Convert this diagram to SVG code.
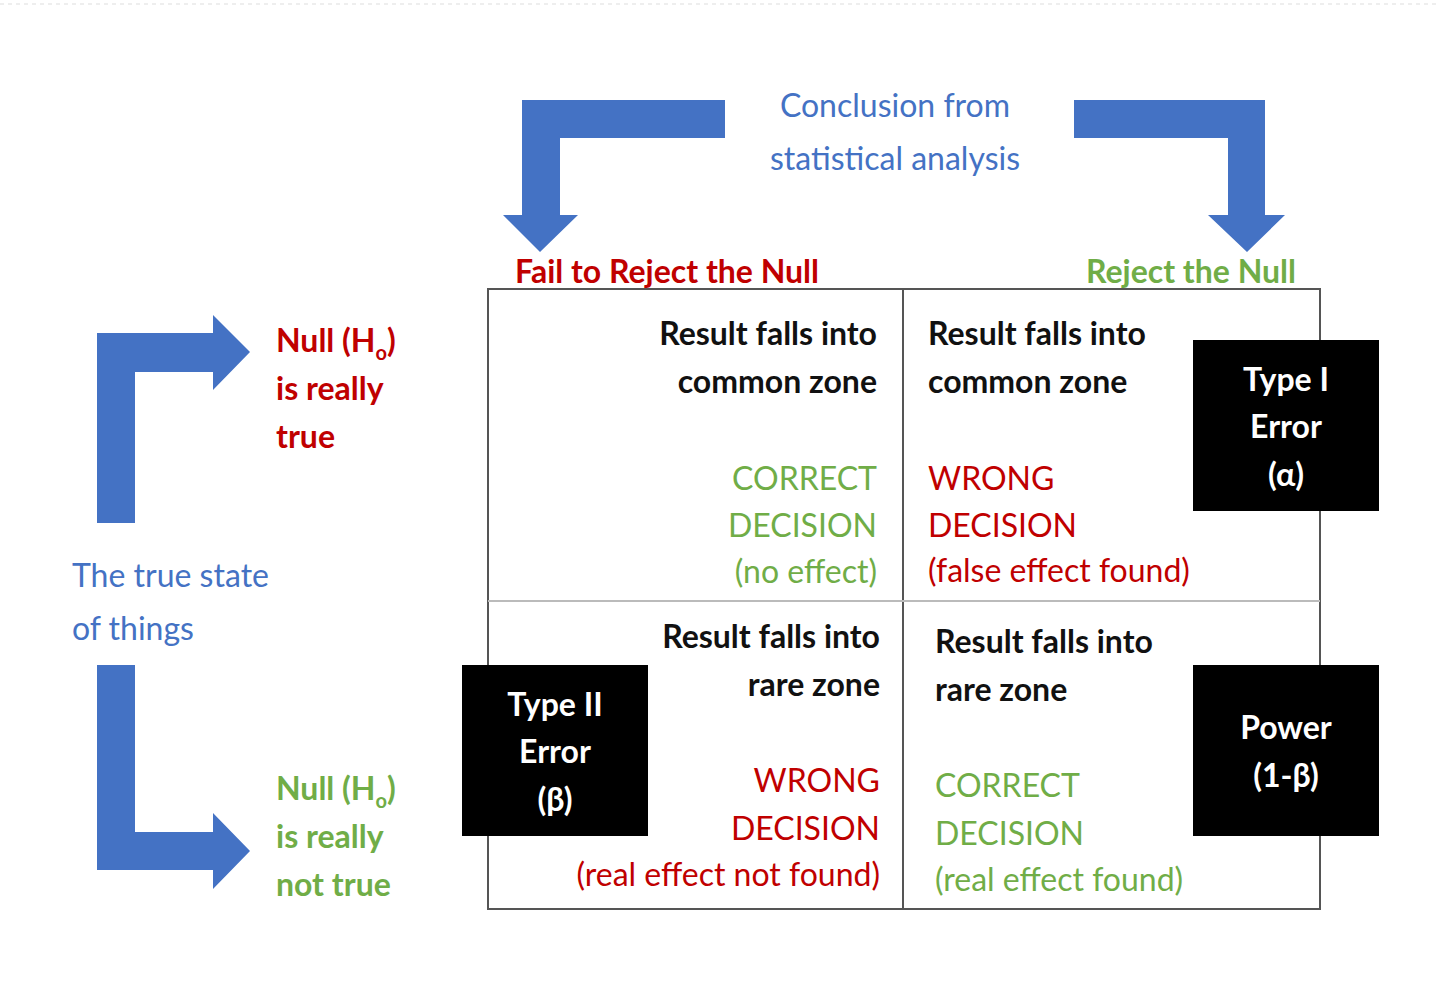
<svg xmlns="http://www.w3.org/2000/svg" width="1440" height="1005" viewBox="0 0 1440 1005">
<style>
text{font-family:Lato,"Open Sans","Liberation Sans",sans-serif;font-size:32px}
.b{font-weight:bold;fill:#111}
.blue{fill:#4472C4}
.red{fill:#C00000}
.grn{fill:#70AD47}
.w{fill:#fff;font-weight:bold}
.arr{fill:#4472C4}
.box{fill:#000}
</style>
<rect width="1440" height="1005" fill="#fff"/>
<line x1="0" y1="4" x2="1440" y2="4" stroke="#ddd" stroke-dasharray="4 4"/>
<g id="connectors">
<path class="arr" d="M522 100H725V138H560V215H578L540 252L503 215H522Z"/>
<path class="arr" d="M1074 100H1265V215H1285L1247 252L1208 215H1228V138H1074Z"/>
<path class="arr" d="M97 523V333H213V315L250 352L213 390V372H135V523Z"/>
<path class="arr" d="M97 665H135V832H213V813L250 851L213 889V870H97Z"/>
</g>
<g id="title"><text class="blue" x="895" y="117" text-anchor="middle" font-size="38">Conclusion from</text><text class="blue" x="895" y="170" text-anchor="middle" font-size="38">statistical analysis</text></g>
<g id="col-labels"><text class="red" x="515" y="283" font-weight="bold">Fail to Reject the Null</text><text class="grn" x="1296" y="283" text-anchor="end" font-weight="bold">Reject the Null</text></g>
<g id="row-labels">
<text class="blue" x="72" y="587" font-size="38">The true state</text><text class="blue" x="72" y="640" font-size="38">of things</text>
<text class="red" font-weight="bold" x="276" y="352">Null (H<tspan font-size="20" dy="8">o</tspan><tspan dy="-8">)</tspan></text>
<text class="red" font-weight="bold" x="276" y="400">is really</text><text class="red" font-weight="bold" x="276" y="448">true</text>
<text class="grn" font-weight="bold" x="276" y="800">Null (H<tspan font-size="20" dy="8">o</tspan><tspan dy="-8">)</tspan></text>
<text class="grn" font-weight="bold" x="276" y="848">is really</text><text class="grn" font-weight="bold" x="276" y="896">not true</text>
</g>
<g id="grid" fill="none" stroke="#555" stroke-width="2"><rect x="488" y="289" width="832" height="620"/><line x1="903" y1="289" x2="903" y2="909"/><line x1="488" y1="601" x2="1320" y2="601" stroke="#bbb"/></g>
<g id="cell-tl" text-anchor="end">
<text class="b" x="877" y="345">Result falls into</text><text class="b" x="877" y="393">common zone</text>
<text class="grn" x="877" y="490" font-size="36">CORRECT</text><text class="grn" x="877" y="537" font-size="36">DECISION</text><text class="grn" x="877" y="583">(no effect)</text></g>
<g id="cell-tr">
<text class="b" x="928" y="345">Result falls into</text><text class="b" x="928" y="393">common zone</text>
<text class="red" x="928" y="490" font-size="36">WRONG</text><text class="red" x="928" y="537" font-size="36">DECISION</text><text class="red" x="928" y="582">(false effect found)</text></g>
<g id="cell-bl" text-anchor="end">
<text class="b" x="880" y="648">Result falls into</text><text class="b" x="880" y="696">rare zone</text>
<text class="red" x="880" y="792" font-size="36">WRONG</text><text class="red" x="880" y="840" font-size="36">DECISION</text><text class="red" x="880" y="886">(real effect not found)</text></g>
<g id="cell-br">
<text class="b" x="935" y="653">Result falls into</text><text class="b" x="935" y="701">rare zone</text>
<text class="grn" x="935" y="797" font-size="36">CORRECT</text><text class="grn" x="935" y="845" font-size="36">DECISION</text><text class="grn" x="935" y="891">(real effect found)</text></g>
<g id="type1" text-anchor="middle"><rect class="box" x="1193" y="340" width="186" height="171"/><text class="w" x="1286" y="391">Type I</text><text class="w" x="1286" y="438">Error</text><text class="w" x="1286" y="486">(α)</text></g>
<g id="type2" text-anchor="middle"><rect class="box" x="462" y="665" width="186" height="171"/><text class="w" x="555" y="716">Type II</text><text class="w" x="555" y="763">Error</text><text class="w" x="555" y="811">(β)</text></g>
<g id="power" text-anchor="middle"><rect class="box" x="1193" y="665" width="186" height="171"/><text class="w" x="1286" y="739">Power</text><text class="w" x="1286" y="787">(1-β)</text></g>
</svg>
